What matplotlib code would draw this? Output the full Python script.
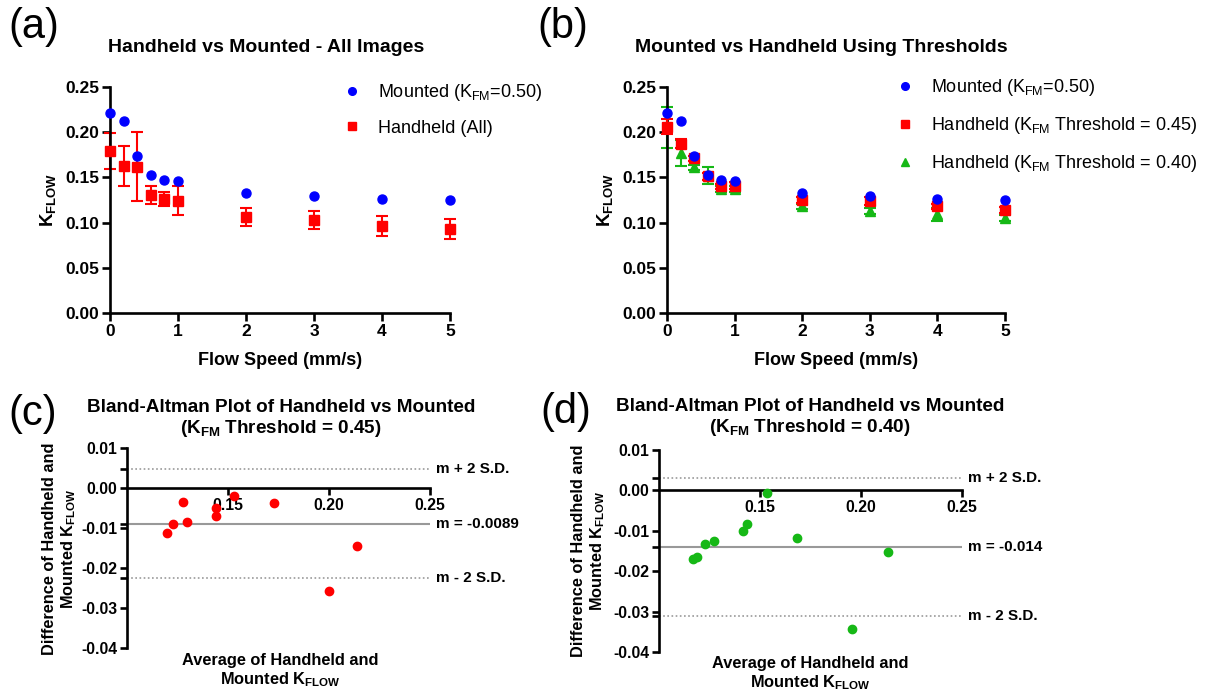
import numpy as np
import matplotlib.pyplot as plt

plt.rcParams['font.family'] = ['Liberation Sans', 'DejaVu Sans']
plt.rcParams['mathtext.default'] = 'regular'

# flow speed (mm/s)
speed = [0, 0.2, 0.4, 0.6, 0.8, 1, 2, 3, 4, 5]

# mounted K_FLOW (K_FM = 0.50)
mounted = [0.221, 0.212, 0.174, 0.153, 0.147, 0.146, 0.133, 0.129, 0.126, 0.125]

# handheld, all images
hand_all = [0.179, 0.163, 0.162, 0.131, 0.126, 0.124, 0.106, 0.103, 0.096, 0.093]
hand_all_err = [0.020, 0.022, 0.038, 0.010, 0.008, 0.016, 0.010, 0.010, 0.011, 0.011]

# handheld, K_FM threshold = 0.45
hand_45 = [0.206, 0.187, 0.171, 0.151, 0.140, 0.141, 0.125, 0.124, 0.118, 0.114]
hand_45_err = [0.0085, 0.005, 0.003, 0.004, 0.003, 0.004, 0.003, 0.004, 0.003, 0.003]

# handheld, K_FM threshold = 0.40
hand_40 = [0.205, 0.177, 0.161, 0.152, 0.137, 0.137, 0.118, 0.113, 0.109, 0.105]
hand_40_err = [0.023, 0.014, 0.003, 0.009, 0.003, 0.003, 0.003, 0.003, 0.007, 0.003]

# Bland-Altman, threshold 0.45
ba45_avg = [0.120, 0.1227, 0.1279, 0.1296, 0.1441, 0.1441, 0.1531, 0.1727, 0.200, 0.2139]
ba45_diff = [-0.0113, -0.0091, -0.0035, -0.0084, -0.0051, -0.0069, -0.0021, -0.0038, -0.0257, -0.0145]
ba45_mean = -0.0089
ba45_sd = 0.00685

# Bland-Altman, threshold 0.40
ba40_avg = [0.1166, 0.1186, 0.1226, 0.1272, 0.1414, 0.1434, 0.1533, 0.1685, 0.1955, 0.2133]
ba40_diff = [-0.0171, -0.0166, -0.0133, -0.0126, -0.0101, -0.0082, -0.0006, -0.0119, -0.0344, -0.0153]
ba40_mean = -0.014
ba40_sd = 0.0085

BLUE = '#0000ff'
RED = '#ff0000'
GREEN = '#16b816'

W, H = 1207, 696
fig = plt.figure(figsize=(W / 100, H / 100), dpi=100)


def box(l, r, t, b):
    # pixel box -> figure fraction
    return [l / W, 1 - b / H, (r - l) / W, (b - t) / H]


def ftext(x, y, s, **kw):
    # text placed in figure pixels (from top-left)
    fig.text(x / W, 1 - y / H, s, **kw)


def style(ax, size=12.5, length=6):
    for s in ['top', 'right']:
        ax.spines[s].set_visible(False)
    for s in ['left', 'bottom']:
        ax.spines[s].set_linewidth(1.9)
    ax.tick_params(width=1.9, length=length, labelsize=size, pad=2)
    for lab in ax.get_xticklabels() + ax.get_yticklabels():
        lab.set_fontweight('bold')


yt_top = [0, 0.05, 0.10, 0.15, 0.20, 0.25]

# ---- (a)
ax = fig.add_axes(box(110, 450, 87, 313))
ax.errorbar(speed, hand_all, yerr=hand_all_err, fmt='none', ecolor=RED,
            elinewidth=1.5, capsize=4.5, capthick=1.5, clip_on=False)
ax.plot(speed, hand_all, 's', color=RED, ms=7, clip_on=False, zorder=3)
ax.plot(speed, mounted, 'o', color=BLUE, ms=6.5, clip_on=False, zorder=4)
ax.set_xlim(0, 5)
ax.set_ylim(0, 0.25)
ax.set_xticks([0, 1, 2, 3, 4, 5])
ax.set_yticks(yt_top)
ax.set_yticklabels(['%.2f' % v for v in yt_top])
style(ax)
ax.set_xlabel('Flow Speed (mm/s)', fontsize=13, fontweight='bold', labelpad=9)
ax.set_ylabel('K$_{FLOW}$', fontsize=13.5, fontweight='bold', labelpad=5)
ftext(266, 48, 'Handheld vs Mounted - All Images', fontsize=14, fontweight='bold',
      ha='center', va='center')
h1, = ax.plot([], [], 'o', color=BLUE, ms=5.5)
h2, = ax.plot([], [], 's', color=RED, ms=5.5)
ax.legend([h1, h2], ['Mounted (K$_{FM}$=0.50)', 'Handheld (All)'], loc='upper left',
          bbox_to_anchor=(0.685, 1.02), frameon=False, fontsize=13, borderpad=0,
          handlelength=1.0, handletextpad=0.95, labelspacing=0.9, borderaxespad=0)

# ---- (b)
ax = fig.add_axes(box(667, 1005, 87, 313))
ax.errorbar(speed, hand_40, yerr=hand_40_err, fmt='none', ecolor=GREEN,
            elinewidth=1.5, capsize=4.5, capthick=1.5, clip_on=False, zorder=2)
ax.plot(speed, hand_40, '^', color=GREEN, ms=7, clip_on=False, zorder=2.5)
ax.errorbar(speed, hand_45, yerr=hand_45_err, fmt='none', ecolor=RED,
            elinewidth=1.5, capsize=4.5, capthick=1.5, clip_on=False, zorder=3)
ax.plot(speed, hand_45, 's', color=RED, ms=7, clip_on=False, zorder=3.5)
ax.plot(speed, mounted, 'o', color=BLUE, ms=6.5, clip_on=False, zorder=4)
ax.set_xlim(0, 5)
ax.set_ylim(0, 0.25)
ax.set_xticks([0, 1, 2, 3, 4, 5])
ax.set_yticks(yt_top)
ax.set_yticklabels(['%.2f' % v for v in yt_top])
style(ax)
ax.set_xlabel('Flow Speed (mm/s)', fontsize=13, fontweight='bold', labelpad=9)
ax.set_ylabel('K$_{FLOW}$', fontsize=13.5, fontweight='bold', labelpad=5)
ftext(821, 48, 'Mounted vs Handheld Using Thresholds', fontsize=14, fontweight='bold',
      ha='center', va='center')
h1, = ax.plot([], [], 'o', color=BLUE, ms=5.5)
h2, = ax.plot([], [], 's', color=RED, ms=5.5)
h3, = ax.plot([], [], '^', color=GREEN, ms=5.5)
ax.legend([h1, h2, h3], ['Mounted (K$_{FM}$=0.50)',
                         'Handheld (K$_{FM}$ Threshold = 0.45)',
                         'Handheld (K$_{FM}$ Threshold = 0.40)'],
          loc='upper left', bbox_to_anchor=(0.678, 1.045), frameon=False, fontsize=13,
          borderpad=0, handlelength=1.0, handletextpad=0.95, labelspacing=0.95,
          borderaxespad=0)


# ---- Bland-Altman panels
def bland(ax, avg, diff, m, sd, color, mlabel):
    ax.set_xlim(0.10, 0.25)
    ax.set_ylim(-0.04, 0.01)
    ax.axhline(m, color='#999999', lw=1.5, zorder=1)
    ax.axhline(m + 2 * sd, color='#999999', lw=1.2, ls=(0, (1, 1.5)), zorder=1)
    ax.axhline(m - 2 * sd, color='#999999', lw=1.2, ls=(0, (1, 1.5)), zorder=1)
    ax.plot(avg, diff, 'o', color=color, ms=6, zorder=3, clip_on=False)
    ax.spines['bottom'].set_position(('data', 0))
    ax.set_xticks([0.15, 0.20, 0.25])
    ax.set_xticklabels(['0.15', '0.20', '0.25'])
    yt = [0.01, 0.0, -0.01, -0.02, -0.03, -0.04]
    ax.set_yticks(yt)
    ax.set_yticklabels(['%.2f' % v for v in yt])
    ax.set_yticks([m + 2 * sd, m, m - 2 * sd], minor=True)
    style(ax, size=11.3, length=5)
    ax.tick_params(which='minor', width=1.9, length=5)
    kw = dict(fontsize=11, fontweight='bold', va='center', clip_on=False)
    ax.text(0.253, m + 2 * sd, 'm + 2 S.D.', **kw)
    ax.text(0.253, m, mlabel, **kw)
    ax.text(0.253, m - 2 * sd, 'm - 2 S.D.', **kw)


lab_kw = dict(fontsize=11.8, fontweight='bold', ha='center', va='center', linespacing=1.2)
tit_kw = dict(fontsize=13.6, fontweight='bold', ha='center', va='center', linespacing=1.15)

ax = fig.add_axes(box(127, 430, 448, 648))
bland(ax, ba45_avg, ba45_diff, ba45_mean, ba45_sd, RED, 'm = -0.0089')
ftext(281, 419, 'Bland-Altman Plot of Handheld vs Mounted\n(K$_{FM}$ Threshold = 0.45)', **tit_kw)
ftext(60, 549, 'Difference of Handheld and\nMounted K$_{FLOW}$', rotation=90, **lab_kw)
ftext(280, 671, 'Average of Handheld and\nMounted K$_{FLOW}$', **lab_kw)

ax = fig.add_axes(box(659, 962, 450, 652))
bland(ax, ba40_avg, ba40_diff, ba40_mean, ba40_sd, GREEN, 'm = -0.014')
ftext(810, 418, 'Bland-Altman Plot of Handheld vs Mounted\n(K$_{FM}$ Threshold = 0.40)', **tit_kw)
ftext(589, 551, 'Difference of Handheld and\nMounted K$_{FLOW}$', rotation=90, **lab_kw)
ftext(810, 674, 'Average of Handheld and\nMounted K$_{FLOW}$', **lab_kw)

# panel letters
for x, y, s in [(8, 27, '(a)'), (537, 27, '(b)'), (8, 414, '(c)'), (540, 412, '(d)')]:
    ftext(x, y, s, fontsize=30, va='center', ha='left')

fig.savefig('out.png', dpi=100)
